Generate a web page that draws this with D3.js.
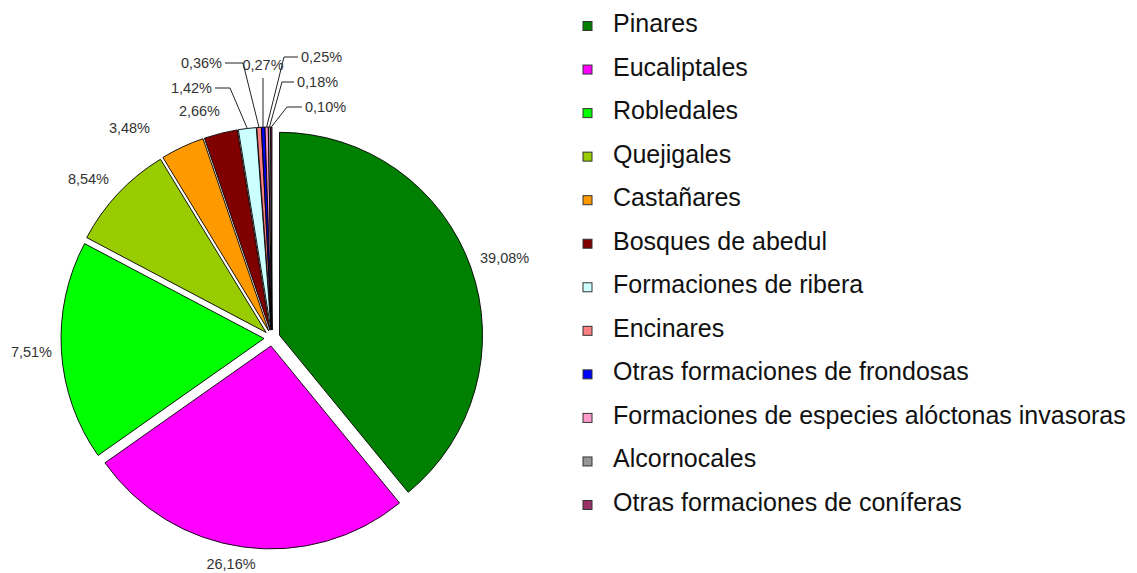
<!DOCTYPE html>
<html>
<head>
<meta charset="utf-8">
<script src="https://cdn.jsdelivr.net/npm/d3@7"></script>
<style>
  html, body { margin: 0; padding: 0; background: #fff; }
  svg { display: block; font-family: "Liberation Sans", Arial, sans-serif; }
</style>
</head>
<body>
<svg id="chart" width="1137" height="573"></svg>
<script>
// ---- data ----
const categories = [
  "Pinares", "Eucaliptales", "Robledales", "Quejigales", "Castañares",
  "Bosques de abedul", "Formaciones de ribera", "Encinares",
  "Otras formaciones de frondosas", "Formaciones de especies alóctonas invasoras",
  "Alcornocales", "Otras formaciones de coníferas"
];
const values = [39.08, 26.16, 17.51, 8.54, 3.48, 2.66, 1.42, 0.36, 0.27, 0.25, 0.18, 0.10];
const colors = ["#008000", "#FF00FF", "#00FF00", "#99CC00", "#FF9900", "#800000",
                "#CCFFFF", "#FF8080", "#0000FF", "#FF99CC", "#969696", "#993366"];

// ---- layout (not data) ----
const W = 1137, H = 573;
const cx = 272, cy = 338, R = 203, explode = 8;
// label placement relative to pie centre: anchor, dx, dy, leader type
const labelLayout = [
  {a: "start",  dx: 208,  dy: -80},
  {a: "middle", dx: -41,  dy: 226},
  {a: "end",    dx: -220, dy: 14, clip: true},
  {a: "end",    dx: -163, dy: -159},
  {a: "end",    dx: -122, dy: -210},
  {a: "end",    dx: -52,  dy: -227},
  {a: "end",    dx: -60,  dy: -250, leader: "elbow", el: 15},
  {a: "end",    dx: -50,  dy: -275, leader: "elbow", el: 18},
  {a: "middle", dx: -9,   dy: -273, leader: "vertical"},
  {a: "start",  dx: 29,   dy: -281, leader: "elbow", el: 14},
  {a: "start",  dx: 25,   dy: -256, leader: "elbow", el: 12},
  {a: "start",  dx: 33,   dy: -231, leader: "elbow", el: 15}
];

const fmt = v => d3.format(".2f")(v).replace(".", ",") + "%";

const svg = d3.select("#chart");
svg.append("defs").append("clipPath").attr("id", "leftclip")
  .append("rect").attr("x", 10.6).attr("y", 0).attr("width", W).attr("height", H);

const data = categories.map((c, i) => ({name: c, value: values[i], color: colors[i], i}));

const pie = d3.pie().value(d => d.value).sort(null);
const arcs = pie(data);
const arc = d3.arc().innerRadius(0).outerRadius(R);

const g = svg.append("g").attr("transform", `translate(${cx},${cy})`);

function offset(d) {
  const m = (d.startAngle + d.endAngle) / 2;
  return [explode * Math.sin(m), -explode * Math.cos(m)];
}

g.selectAll("path.slice").data(arcs).join("path")
  .attr("class", "slice")
  .attr("d", arc)
  .attr("transform", d => { const o = offset(d); return `translate(${o[0]},${o[1]})`; })
  .attr("fill", d => d.data.color)
  .attr("stroke", "#000")
  .attr("stroke-width", 0.9)
  .attr("stroke-linejoin", "round");

// labels
const labG = g.append("g");
arcs.forEach((d, k) => {
  const L = labelLayout[k];
  if (L.clip) {
    // drawn in absolute coordinates so that the left clip applies
    svg.append("text")
      .attr("x", L.dx + cx).attr("y", L.dy + cy)
      .attr("text-anchor", L.a)
      .attr("dominant-baseline", "central")
      .attr("font-size", 14.5)
      .attr("fill", "#333")
      .attr("clip-path", "url(#leftclip)")
      .text(fmt(d.data.value));
    return;
  }
  labG.append("text")
    .attr("x", L.dx).attr("y", L.dy)
    .attr("text-anchor", L.a)
    .attr("dominant-baseline", "central")
    .attr("font-size", 14.5)
    .attr("fill", "#333")
    .text(fmt(d.data.value));
  if (L.leader) {
    const m = (d.startAngle + d.endAngle) / 2;
    const o = offset(d);
    const px = o[0] + R * Math.sin(m), py = o[1] - R * Math.cos(m);
    let pts;
    if (L.leader === "vertical") {
      pts = [[L.dx, py], [L.dx, L.dy + 13]];
    } else {
      const sgn = L.a === "end" ? 1 : -1;
      const tx = L.dx + sgn * 3;
      const ex = L.dx + sgn * (3 + L.el);
      pts = [[px, py], [ex, L.dy], [tx, L.dy]];
    }
    labG.append("path")
      .attr("d", d3.line()(pts))
      .attr("fill", "none")
      .attr("stroke", "#222")
      .attr("stroke-width", 1);
  }
});

// legend
const legendTop = 23, legendBottom = 502;
const ly = d3.scalePoint().domain(categories).range([legendTop, legendBottom]);
const leg = svg.append("g");
const rows = leg.selectAll("g").data(data).join("g")
  .attr("transform", d => `translate(0,${ly(d.name)})`);
rows.append("rect")
  .attr("x", 583).attr("y", -1.5).attr("width", 9).attr("height", 9)
  .attr("fill", d => d.color)
  .attr("stroke", "#333").attr("stroke-width", 1);
rows.append("text")
  .attr("x", 613).attr("y", 0)
  .attr("dominant-baseline", "central")
  .attr("font-size", 25)
  .attr("fill", "#111")
  .text(d => d.name);
</script>
</body>
</html>
